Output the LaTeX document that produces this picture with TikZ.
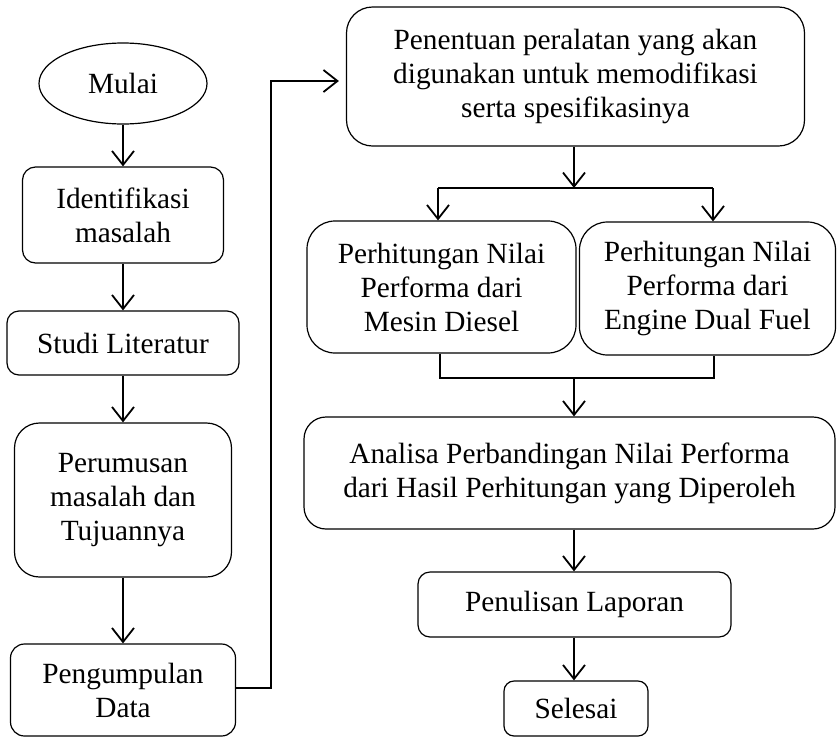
\documentclass[tikz,border=0pt]{standalone}
\usepackage{fontspec}
\setmainfont{Liberation Serif}
\usetikzlibrary{arrows.meta,shapes.geometric}
\tikzset{
  boxnode/.style={draw, line width=1.2pt, align=center, inner sep=0pt, font=\fontsize{29.3}{34}\selectfont},
  arr/.style={line width=1.8pt, -{Straight Barb[length=14pt,width=22pt,line width=1.8pt]}},
  plain/.style={line width=1.4pt},
  longarr/.style={line width=2.6pt, -{Straight Barb[length=14pt,width=22pt,line width=1.8pt]}}
}
\begin{document}
\begin{tikzpicture}[x=1pt,y=-1pt]
\useasboundingbox (0,0) rectangle (837,737);
% left column
\node[boxnode, ellipse, minimum width=168pt, minimum height=81pt] (mulai) at (123,83.5) {Mulai};
\node[boxnode, rounded corners=13pt, minimum width=201pt, minimum height=96pt] (ident) at (123,215) {Identifikasi\\masalah};
\node[boxnode, rounded corners=12pt, minimum width=232pt, minimum height=64pt] (studi) at (123,343) {Studi Literatur};
\node[boxnode, rounded corners=25pt, minimum width=217pt, minimum height=154pt] (perum) at (123,500) {Perumusan\\masalah dan\\Tujuannya};
\node[boxnode, rounded corners=14pt, minimum width=225pt, minimum height=92pt] (pengum) at (123,690) {Pengumpulan\\Data};
% right column
\node[boxnode, rounded corners=26pt, minimum width=458pt, minimum height=139pt] (penent) at (575.5,76.5) {Penentuan peralatan yang akan\\digunakan untuk memodifikasi\\serta spesifikasinya};
\node[boxnode, rounded corners=28pt, minimum width=269pt, minimum height=132pt] (diesel) at (441.5,287) {Perhitungan Nilai\\Performa dari\\Mesin Diesel};
\node[boxnode, rounded corners=28pt, minimum width=256pt, minimum height=133pt] (dual) at (707.5,288.5) {Perhitungan Nilai\\Performa dari\\Engine Dual Fuel};
\node[boxnode, rounded corners=22pt, minimum width=531pt, minimum height=112pt] (analisa) at (569.5,473) {Analisa Perbandingan Nilai Performa\\dari Hasil Perhitungan yang Diperoleh};
\node[boxnode, rounded corners=12pt, minimum width=313pt, minimum height=65pt] (penul) at (574.5,604.5) {Penulisan Laporan};
\node[boxnode, rounded corners=10pt, minimum width=144pt, minimum height=55pt] (selesai) at (576,708.5) {Selesai};
% coordinates
\coordinate (split) at (574,188);
\coordinate (sl) at (438,188);
\coordinate (sr) at (713,188);
\coordinate (merge) at (574,378);
\coordinate (ml) at (440,378);
\coordinate (mr) at (714,378);
\coordinate (turn) at (271,688);
% left arrows
\draw[arr] (mulai.south) -- (ident.north);
\draw[arr] (ident.south) -- (studi.north);
\draw[arr] (studi.south) -- (perum.north);
\draw[arr] (perum.south) -- (pengum.north);
% long connector
\draw[longarr, shorten >=7pt] (pengum.east |- turn) -- (turn) |- ([yshift=-4.5pt]penent.west);
% split
\draw[arr] (split |- penent.south) -- (split);
\draw[plain] (sl) -- (sr);
\draw[arr] (sl) -- (sl |- diesel.north);
\draw[arr] (sr) -- (sr |- dual.north);
% merge
\draw[plain] (ml |- diesel.south) -- (ml) -- (mr) -- (mr |- dual.south);
\draw[arr] (merge) -- (merge |- analisa.north);
\draw[arr] (merge |- analisa.south) -- (merge |- penul.north);
\draw[arr] (merge |- penul.south) -- (merge |- selesai.north);
\end{tikzpicture}
\end{document}
